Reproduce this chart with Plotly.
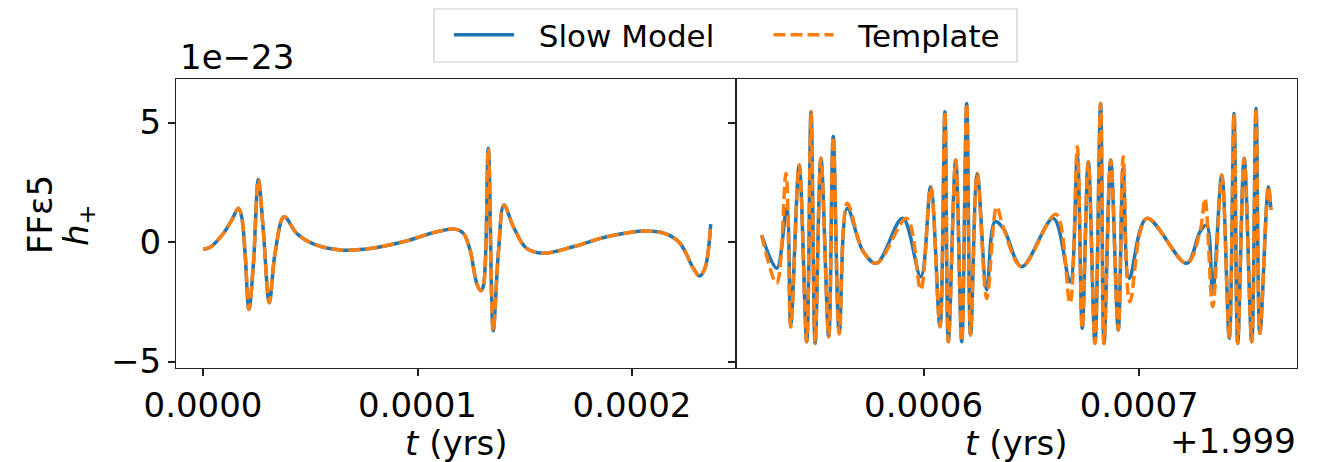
import plotly.graph_objects as go

# ---------------- data (t in units of 1e-4 yr, h in units of 1e-23) ----------------
# Left panel (starting epoch)
left_t = [0.000, 0.033, 0.095, 0.134, 0.165, 0.180, 0.196, 0.214, 0.235, 0.258, 0.281,
          0.309, 0.336, 0.378, 0.437, 0.514, 0.639, 0.779, 0.934, 1.090, 1.175, 1.214,
          1.245, 1.276, 1.295, 1.307, 1.330, 1.353, 1.377, 1.403, 1.447, 1.509, 1.586,
          1.726, 1.882, 2.068, 2.162, 2.224, 2.286, 2.314, 2.340, 2.367]
left_slow = [-0.30, -0.22, 0.36, 0.92, 1.41, 1.06, -0.46, -2.82, -0.90, 2.62, 0.50,
             -2.54, -0.46, 1.06, 0.36, -0.08, -0.33, -0.27, 0.01, 0.43, 0.54, 0.36,
             -0.33, -1.73, -2.04, -1.85, 3.92, -3.71, -0.47, 1.55, 0.64, -0.27, -0.47,
             -0.20, 0.22, 0.46, 0.33, -0.05, -1.10, -1.42, -1.10, 0.75]
left_template = [-0.30, -0.22, 0.36, 0.92, 1.41, 1.06, -0.46, -2.82, -0.90, 2.62, 0.50,
                 -2.54, -0.46, 1.06, 0.36, -0.08, -0.33, -0.27, 0.01, 0.43, 0.54, 0.36,
                 -0.33, -1.73, -2.04, -1.85, 3.92, -3.71, -0.47, 1.55, 0.64, -0.27, -0.47,
                 -0.20, 0.22, 0.46, 0.33, -0.05, -1.10, -1.42, -1.10, 0.75]

# Right panel (end epoch, offset +1.999 yr)
right_t_slow = [5.249, 5.319, 5.365, 5.384, 5.423, 5.458, 5.478, 5.497, 5.524, 5.560,
                5.581, 5.609, 5.646, 5.720, 5.782, 5.903, 5.987, 6.033, 6.076, 6.099,
                6.115, 6.149, 6.177, 6.200, 6.218, 6.249, 6.293, 6.331, 6.370, 6.455,
                6.602, 6.679, 6.713, 6.736, 6.764, 6.795, 6.821, 6.837, 6.868, 6.903,
                6.926, 6.954, 7.035, 7.220, 7.282, 7.313, 7.341, 7.383, 7.418, 7.440,
                7.457, 7.487, 7.522, 7.542, 7.560, 7.599, 7.611]
right_slow = [0.29, -1.10, 1.41, -3.47, 3.22, -4.17, 5.45, -4.24, 3.50, -3.96,
              4.41, -3.75, 1.41, -0.40, -0.89, 0.99, -1.45, 2.31, -3.54, 5.45,
              -4.17, 3.43, -4.17, 5.80, -3.89, 2.87, -2.00, 0.85, 0.57, -1.03,
              0.99, -1.66, 3.57, -3.61, 3.36, -4.24, 5.80, -4.24, 3.43, -3.68,
              3.10, -1.52, 0.99, -0.89, 0.43, 0.71, -2.08, 2.80, -4.03, 5.38,
              -4.24, 3.50, -4.17, 5.59, -3.82, 2.31, 1.34]

right_t_template = [5.249, 5.319, 5.362, 5.384, 5.423, 5.458, 5.478, 5.497, 5.524, 5.560,
                    5.581, 5.609, 5.646, 5.720, 5.782, 5.922, 5.987, 6.033, 6.076, 6.099,
                    6.115, 6.149, 6.177, 6.200, 6.218, 6.249, 6.293, 6.339, 6.370, 6.455,
                    6.614, 6.679, 6.713, 6.736, 6.764, 6.795, 6.821, 6.837, 6.868, 6.903,
                    6.926, 6.957, 7.035, 7.220, 7.282, 7.305, 7.341, 7.383, 7.418, 7.440,
                    7.457, 7.487, 7.522, 7.542, 7.560, 7.599, 7.611]
right_template = [0.29, -1.73, 2.87, -3.55, 3.22, -4.17, 5.45, -4.24, 3.50, -3.96,
                  4.41, -3.85, 1.62, -0.40, -0.89, 0.99, -2.00, 2.31, -3.54, 5.45,
                  -4.17, 3.43, -4.17, 5.80, -3.89, 2.87, -2.36, 1.48, 0.60, -1.03,
                  1.16, -2.56, 3.99, -3.61, 3.36, -4.24, 5.80, -4.24, 3.43, -3.68,
                  3.57, -2.50, 0.99, -0.89, 0.43, 1.83, -2.71, 2.80, -4.03, 5.38,
                  -4.24, 3.50, -4.17, 5.59, -3.82, 2.31, 1.34]

series_names = ["Slow Model", "Template"]
y_ticks = [-5, 0, 5]
y_tick_text = ["\u22125", "0", "5"]
left_x_ticks = [0.0, 0.0001, 0.0002]
right_x_ticks = [0.0006, 0.0007]

# ---------------- figure ----------------
W, H = 1326, 462
BLUE = "#1f77b4"
ORANGE = "#ff7f0e"
FONT = "DejaVu Sans"

def px_x(p):
    return p / W

def px_y(p):
    return 1 - p / H

NB = "\u00a0"
fig = go.Figure()
sc = 1e-4
fig.add_trace(go.Scatter(x=[v * sc for v in left_t], y=left_slow, mode="lines",
                         line=dict(color=BLUE, width=3.5, shape="spline", smoothing=1.0),
                         name=NB * 2 + series_names[0] + NB * 5, xaxis="x", yaxis="y", showlegend=True))
fig.add_trace(go.Scatter(x=[v * sc for v in left_t], y=left_template, mode="lines",
                         line=dict(color=ORANGE, width=3.5, dash="12px,5px", shape="spline", smoothing=1.0),
                         name=NB * 2 + series_names[1], xaxis="x", yaxis="y", showlegend=True))
fig.add_trace(go.Scatter(x=[v * sc for v in right_t_slow], y=right_slow, mode="lines",
                         line=dict(color=BLUE, width=3.5, shape="spline", smoothing=1.0),
                         name=series_names[0], xaxis="x2", yaxis="y2", showlegend=False))
fig.add_trace(go.Scatter(x=[v * sc for v in right_t_template], y=right_template, mode="lines",
                         line=dict(color=ORANGE, width=3.5, dash="12px,5px", shape="spline", smoothing=1.0),
                         name=series_names[1], xaxis="x2", yaxis="y2", showlegend=False))

yr = [-5.27, 6.82]
ax_common = dict(showline=True, linecolor="#222222", linewidth=1.3, mirror=True,
                 ticks="outside", ticklen=7, tickwidth=1.5, tickcolor="#222222",
                 showgrid=False, zeroline=False, automargin=False,
                 tickfont=dict(family=FONT, size=34, color="black"))

fig.update_layout(
    width=W, height=H,
    margin=dict(l=0, r=0, t=0, b=0, autoexpand=False),
    paper_bgcolor="white", plot_bgcolor="white",
    xaxis=dict(domain=[px_x(176), px_x(736)], range=[-1.26e-5, 2.485e-4],
               tickvals=left_x_ticks, tickformat=".4f", anchor="y", **ax_common),
    xaxis2=dict(domain=[px_x(736), px_x(1297)], range=[5.130e-4, 7.732e-4],
                tickvals=right_x_ticks, tickformat=".4f", anchor="y2", **ax_common),
    yaxis=dict(domain=[px_y(368), px_y(79)], range=yr, tickvals=y_ticks,
               ticktext=y_tick_text, anchor="x", **ax_common),
    yaxis2=dict(domain=[px_y(368), px_y(79)], range=yr, tickvals=y_ticks,
                showticklabels=False, anchor="x2", **ax_common),
    legend=dict(orientation="h", x=px_x(449), y=px_y(35), xanchor="left", yanchor="middle",
                borderwidth=0, bgcolor="rgba(0,0,0,0)",
                font=dict(family=FONT, size=31, color="black"),
                itemwidth=60),
    showlegend=True,
)

# legend frame (matplotlib-style box)
fig.add_shape(type="rect", xref="paper", yref="paper",
              x0=px_x(434), x1=px_x(1017), y0=px_y(62), y1=px_y(9),
              line=dict(color="#cccccc", width=1.2), fillcolor="white", layer="below")

ann_font = dict(family=FONT, size=34, color="black")
fig.add_annotation(text="1e\u221223", x=px_x(178), y=px_y(57), xref="paper", yref="paper",
                   xanchor="left", yanchor="middle", showarrow=False, font=ann_font)
fig.add_annotation(text="<i>t</i> (yrs)", x=px_x(456), y=px_y(443), xref="paper", yref="paper",
                   xanchor="center", yanchor="middle", showarrow=False, font=ann_font)
fig.add_annotation(text="<i>t</i> (yrs)", x=px_x(1016), y=px_y(443), xref="paper", yref="paper",
                   xanchor="center", yanchor="middle", showarrow=False, font=ann_font)
fig.add_annotation(text="+1.999", x=px_x(1298), y=px_y(441), xref="paper", yref="paper",
                   xanchor="right", yanchor="middle", showarrow=False, font=ann_font)
fig.add_annotation(text="FF\u03b55", x=px_x(40), y=px_y(215),
                   xref="paper", yref="paper", xanchor="center", yanchor="middle",
                   textangle=-90, showarrow=False, font=ann_font)
fig.add_annotation(text="<i>h</i><sub>+</sub>", x=px_x(78), y=px_y(225),
                   xref="paper", yref="paper", xanchor="center", yanchor="middle",
                   textangle=-90, showarrow=False, font=ann_font)

fig.write_html("out.html", config={"displayModeBar": False},
               post_script="document.body.style.margin='0';document.body.style.padding='0';")
